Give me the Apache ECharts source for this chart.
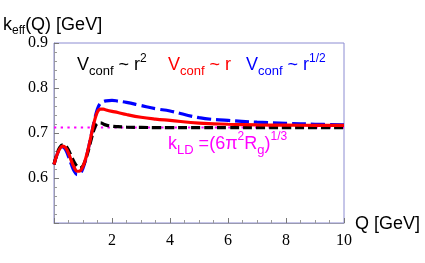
<!DOCTYPE html>
<html><head><meta charset="utf-8">
<script src="https://cdn.jsdelivr.net/npm/echarts@6/dist/echarts.min.js"></script>
<style>html,body{margin:0;padding:0;background:#fff}#c{width:425px;height:263px}</style>
</head><body><div id="c"></div>
<script>
// Q values (GeV)
const Q = [0, 0.1, 0.2, 0.3, 0.4, 0.5, 0.6, 0.7, 0.8, 0.9, 1.0, 1.1, 1.2, 1.3, 1.4, 1.5, 1.6, 1.7, 1.8, 2.0, 2.2, 2.5, 3.0, 3.5, 4.0, 5.0, 6.0, 7.0, 8.0, 9.0, 10.0];
// V_conf ~ r   (red, solid)
const kRed = [0.630, 0.651, 0.665, 0.671, 0.667, 0.655, 0.638, 0.623, 0.615, 0.616, 0.626, 0.645, 0.670, 0.700, 0.728, 0.747, 0.753, 0.753, 0.751, 0.748, 0.7455, 0.741, 0.735, 0.731, 0.728, 0.722, 0.7195, 0.718, 0.7175, 0.717, 0.717];
// V_conf ~ r^(1/2)  (blue, long dashes)
const kBlue = [0.630, 0.651, 0.664, 0.669, 0.663, 0.648, 0.630, 0.615, 0.6075, 0.610, 0.622, 0.643, 0.670, 0.700, 0.730, 0.754, 0.766, 0.770, 0.7715, 0.7725, 0.771, 0.768, 0.761, 0.754, 0.749, 0.734, 0.728, 0.724, 0.7215, 0.7195, 0.718];
// V_conf ~ r^2  (black, short dashes)
const kBlack = [0.630, 0.653, 0.668, 0.6735, 0.671, 0.662, 0.648, 0.635, 0.626, 0.6225, 0.627, 0.643, 0.665, 0.690, 0.711, 0.7215, 0.7225, 0.720, 0.7175, 0.715, 0.714, 0.713, 0.7125, 0.712, 0.712, 0.712, 0.712, 0.712, 0.712, 0.712, 0.712];
// k_LD level (magenta dotted)
const kLD = 0.7125;
const xRange = [0, 10];
const yRange = [0.5, 0.9];

const pair = arr => Q.map((q, i) => [q, arr[i]]);

const ctx = document.createElement('canvas').getContext('2d');
const SANS = '"Liberation Sans", Arial, Helvetica, sans-serif';
function richLine(x, baseline, color, pieces) {
  const els = [];
  let cx = x;
  pieces.forEach(p => {
    const size = p[1], dy = p[2] || 0;
    const font = size + 'px ' + SANS;
    ctx.font = font;
    els.push({
      type: 'text', x: cx, y: baseline + dy - 0.35 * size, silent: true,
      style: { text: p[0], font: font, fill: color, verticalAlign: 'middle', align: 'left' }
    });
    cx += ctx.measureText(p[0]).width;
  });
  return els;
}

const graphics = [].concat(
  richLine(3, 31, '#000', [['k', 18], ['eff', 12, 4], ['(Q) [GeV]', 18]]),
  richLine(355, 230, '#000', [['Q [GeV]', 18]]),
  richLine(77, 71.5, '#000', [['V', 18], ['conf', 13, 4.5], [' ~ r', 18], ['2', 12, -9]]),
  richLine(168, 71.5, '#ff0000', [['V', 18], ['conf', 13, 4.5], [' ~ r', 18]]),
  richLine(246, 71.5, '#0000ff', [['V', 18], ['conf', 13, 4.5], [' ~ r', 18], ['1/2', 12, -9]]),
  richLine(168, 150, '#ff00ff', [['k', 18], ['LD', 13, 4.5], [' =(6\u03c0', 18], ['2', 12, -9], ['R', 18], ['g', 13, 4.5], [')', 18], ['1/3', 12, -9]])
);

const axisGray = '#9a9ab0';
const chart = echarts.init(document.getElementById('c'));
chart.setOption({
  animation: false,
  backgroundColor: '#fff',
  grid: { left: 54, right: 81, top: 43, bottom: 40, show: true, borderColor: '#8c8cd2', borderWidth: 1, backgroundColor: 'transparent' },
  xAxis: {
    type: 'value', min: xRange[0], max: xRange[1], interval: 2,
    axisLine: { show: true, onZero: false, lineStyle: { color: axisGray, width: 1 } },
    axisTick: { show: true, inside: true, length: 5, lineStyle: { color: '#777' } },
    minorTick: { show: true, splitNumber: 4, length: 3, lineStyle: { color: '#999' } },
    splitLine: { show: false },
    axisLabel: { showMinLabel: false, fontFamily: '"Liberation Serif", "Times New Roman", serif', fontSize: 16, color: '#000', margin: 10 }
  },
  yAxis: {
    type: 'value', min: yRange[0], max: yRange[1], interval: 0.1,
    axisLine: { show: true, onZero: false, lineStyle: { color: axisGray, width: 1 } },
    axisTick: { show: true, inside: true, length: 5, lineStyle: { color: '#777' } },
    minorTick: { show: true, splitNumber: 5, length: 3, lineStyle: { color: '#999' } },
    splitLine: { show: false },
    axisLabel: { showMinLabel: false, fontFamily: '"Liberation Serif", "Times New Roman", serif', fontSize: 16, color: '#000', margin: 6, formatter: v => v.toFixed(1) }
  },
  series: [
    { type: 'line', name: 'kLD', data: [[xRange[0], kLD], [xRange[1], kLD]], showSymbol: false, z: 1,
      lineStyle: { color: '#ff00ff', width: 2, type: [2.3, 4.4] } },
    { type: 'line', name: 'r^1/2', data: pair(kBlue), smooth: 0.4, showSymbol: false, z: 2,
      lineStyle: { color: '#0000ff', width: 3.2, type: [14, 5], cap: 'butt' } },
    { type: 'line', name: 'r^2', data: pair(kBlack), smooth: 0.4, showSymbol: false, z: 3,
      lineStyle: { color: '#000000', width: 3.2, type: [9, 4], cap: 'butt' } },
    { type: 'line', name: 'r', data: pair(kRed), smooth: 0.4, showSymbol: false, z: 4,
      lineStyle: { color: '#ff0000', width: 3.2 } }
  ],
  graphic: graphics
});
</script>
</body></html>
